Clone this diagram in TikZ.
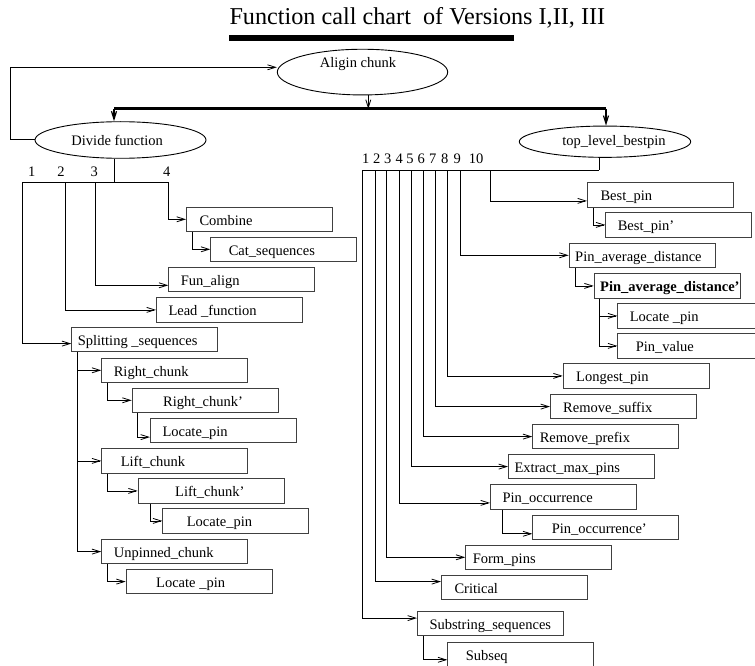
\documentclass[tikz,border=0pt]{standalone}
\usepackage{fontspec}
\setmainfont{Liberation Serif}
\usetikzlibrary{arrows.meta,shapes.geometric,calc}
\newcommand\boxtxt[2]{\makebox[146pt][l]{\hspace*{#1pt}#2}}
\begin{document}
\begin{tikzpicture}[x=1pt,y=-1pt,
  conn/.style={draw=black, line width=0.8pt},
  arr/.style={conn, -{Straight Barb[length=8pt,width=5pt]}},
  box/.style={draw=black!75, line width=1pt, rectangle, anchor=north west,
    minimum width=146pt, minimum height=24.2pt, inner sep=0pt,
    text height=12pt, text depth=0pt, font=\fontsize{14.5}{17}\selectfont},
  oval/.style={draw=black, ellipse, line width=0.9pt, inner sep=0pt,
    font=\fontsize{14.5}{17}\selectfont},
  num/.style={anchor=base, inner sep=0pt, font=\fontsize{14.5}{17}\selectfont}
]
\useasboundingbox (0,0) rectangle (755,666);

% title
\node[anchor=base west, inner sep=0pt, font=\fontsize{24.2}{29}\selectfont] (title) at (229.3,25) {Function call chart\ \ of Versions I,II, III};
\fill[black] (229.3,35.3) rectangle (514.3,40.7);

% ellipses
\node[oval, minimum width=170.4pt, minimum height=45.7pt, text height=2pt, text depth=10.6pt] (aligin) at (362.5,72.1) {Aligin chunk\hspace*{9pt}};
\node[oval, minimum width=171pt, minimum height=36.6pt] (divide) at (120.5,140) {Divide function\hspace*{6.6pt}};
\node[oval, minimum width=171.4pt, minimum height=31.3pt] (top) at (605,141.7) {\hspace*{18pt}top\_level\_bestpin};

% top connectors
\coordinate (lp0) at (10.7,67.3);
\coordinate (abar) at (368.3,109);
\coordinate (bl) at (114,109);
\coordinate (br) at (606,109);
\draw[arr] ([yshift=0.7pt]divide.west) -| (lp0) -- ([yshift=4.8pt]aligin.west);
\draw[arr] (aligin.south -| abar) -- (abar);
\draw[line width=3pt] (bl) -- (br);
\draw[arr, line width=1.2pt] (bl) -- (divide.north -| bl);
\draw[arr, line width=1.2pt] (br) -- (top.north -| br);

% left boxes
\node[box] (combine) at (186,206.7) {\boxtxt{13}{Combine}};
\node[box] (cat) at (210.3,236.7) {\boxtxt{18}{Cat\_sequences}};
\node[box] (fun) at (168.3,266.7) {\boxtxt{12}{Fun\_align}};
\node[box] (lead) at (156,297.3) {\boxtxt{12}{Lead \_function}};
\node[box] (split) at (71.3,327) {\boxtxt{6}{Splitting \_sequences}};
\node[box] (rc) at (101.3,357.7) {\boxtxt{12}{Right\_chunk}};
\node[box] (rcp) at (131.7,387.7) {\boxtxt{31}{Right\_chunk'}};
\node[box] (loca) at (150,418) {\boxtxt{12}{Locate\_pin}};
\node[box] (lc) at (101.3,448.3) {\boxtxt{19}{Lift\_chunk}};
\node[box] (lcp) at (137.7,478.3) {\boxtxt{37}{Lift\_chunk'}};
\node[box] (locb) at (162.3,508.3) {\boxtxt{24}{Locate\_pin}};
\node[box] (un) at (101.3,539) {\boxtxt{12}{Unpinned\_chunk}};
\node[box] (locc) at (125.7,569) {\boxtxt{30}{Locate \_pin}};

% right boxes
\node[box] (bp) at (587,182.3) {\boxtxt{13}{Best\_pin}};
\node[box] (bpp) at (605.3,212.3) {\boxtxt{12}{Best\_pin'}};
\node[box] (pad) at (568.7,242.7) {\boxtxt{6}{Pin\_average\_distance}};
\node[box] (padp) at (593.7,273.3) {\boxtxt{6}{\bfseries Pin\_average\_distance'}};
\node[box] (locr) at (617.3,303.3) {\boxtxt{12}{Locate \_pin}};
\node[box] (pv) at (617.3,333.3) {\boxtxt{18}{Pin\_value}};
\node[box] (lp) at (562.7,363.3) {\boxtxt{13}{Longest\_pin}};
\node[box] (rs) at (550,394) {\boxtxt{12.7}{Remove\_suffix}};
\node[box] (rp) at (532.3,424) {\boxtxt{7}{Remove\_prefix}};
\node[box] (em) at (508,454) {\boxtxt{6}{Extract\_max\_pins}};
\node[box] (po) at (490,484.3) {\boxtxt{12}{Pin\_occurrence}};
\node[box] (pop) at (532.3,514.7) {\boxtxt{19}{Pin\_occurrence'}};
\node[box] (fp) at (465.3,544.7) {\boxtxt{7}{Form\_pins}};
\node[box] (cr) at (441,575) {\boxtxt{13}{Critical}};
\node[box] (ss) at (417,611) {\boxtxt{12}{Substring\_sequences}};
\node[box] (sq) at (447.3,641.7) {\boxtxt{18}{Subseq}};

% left numbers
\node[num] (ln1) at (31.7,176) {1};
\node[num] (ln2) at (61,176) {2};
\node[num] (ln3) at (94.3,176) {3};
\node[num] (ln4) at (166.7,176) {4};

% right numbers
\node[num] (rn1) at (365.7,164) {1};
\node[num] (rn2) at (376.7,164) {2};
\node[num] (rn3) at (387.7,164) {3};
\node[num] (rn4) at (399.3,164) {4};
\node[num] (rn5) at (410,164) {5};
\node[num] (rn6) at (421.3,164) {6};
\node[num] (rn7) at (432.7,164) {7};
\node[num] (rn8) at (444.7,164) {8};
\node[num] (rn9) at (457.3,164) {9};
\node[num] (rn10) at (476,164) {10};

% left tree
\coordinate (L1) at (22.7,182.3);
\coordinate (L2) at (65.3,182.3);
\coordinate (L3) at (95.7,182.3);
\coordinate (L4) at (168.3,182.3);
\coordinate (Ls) at (114,182.3);
\draw[conn] (divide.south -| Ls) -- (Ls);
\draw[conn] (L1) -- (L4);
\draw[arr] (L4) |- (combine.west);
\draw[arr] (L3) |- ([yshift=-6pt]fun.west);
\draw[arr] (L2) |- (lead.west);
\draw[arr] (L1) |- ([yshift=-4pt]split.west);
\draw[arr] ([xshift=6.3pt]combine.south west) |- (cat.west);
\draw[arr] ([xshift=6.4pt]split.south west) |- (rc.west);
\draw[arr] ([xshift=6.4pt]split.south west) |- (lc.west);
\draw[arr] ([xshift=6.4pt]split.south west) |- (un.west);
\draw[arr] ([xshift=6pt]rc.south west) |- (rcp.west);
\draw[arr] ([xshift=6pt]rcp.south west) |- ([yshift=-6.5pt]loca.west);
\draw[arr] ([xshift=6pt]lc.south west) |- (lcp.west);
\draw[arr] ([xshift=12.3pt]lcp.south west) |- (locb.west);
\draw[arr] ([xshift=6pt]un.south west) |- (locc.west);

% right tree
\coordinate (R0) at (599.3,170);
\coordinate (R1) at (362.7,170);
\coordinate (R2) at (375,170);
\coordinate (R3) at (386.7,170);
\coordinate (R4) at (399.3,170);
\coordinate (R5) at (411,170);
\coordinate (R6) at (423.3,170);
\coordinate (R7) at (435.7,170);
\coordinate (R8) at (447.7,170);
\coordinate (R9) at (460,170);
\coordinate (R10) at (490,170);
\draw[conn] (top.south -| R0) -- (R0);
\draw[conn] (R1) -- (R0);
\draw[arr] (R10) |- ([yshift=-6pt]bp.west);
\draw[arr] (R9) |- (pad.west);
\draw[arr] (R8) |- (lp.west);
\draw[arr] (R7) |- (rs.west);
\draw[arr] (R6) |- (rp.west);
\draw[arr] (R5) |- (em.west);
\draw[arr] (R4) |- ([yshift=-6pt]po.west);
\draw[arr] (R3) |- (fp.west);
\draw[arr] (R2) |- ([yshift=6pt]cr.west);
\draw[arr] (R1) |- ([yshift=5.5pt]ss.west);
\draw[arr] ([xshift=6.7pt]bp.south west) |- (bpp.west);
\draw[arr] ([xshift=6.3pt]pad.south west) |- (padp.west);
\draw[arr] ([xshift=5.6pt]padp.south west) |- (locr.west);
\draw[arr] ([xshift=5.6pt]padp.south west) |- (pv.west);
\draw[arr] ([xshift=12.3pt]po.south west) |- ([yshift=-6.5pt]pop.west);
\draw[arr] ([xshift=6.3pt]ss.south west) |- ([yshift=-5.5pt]sq.west);
\end{tikzpicture}
\end{document}
